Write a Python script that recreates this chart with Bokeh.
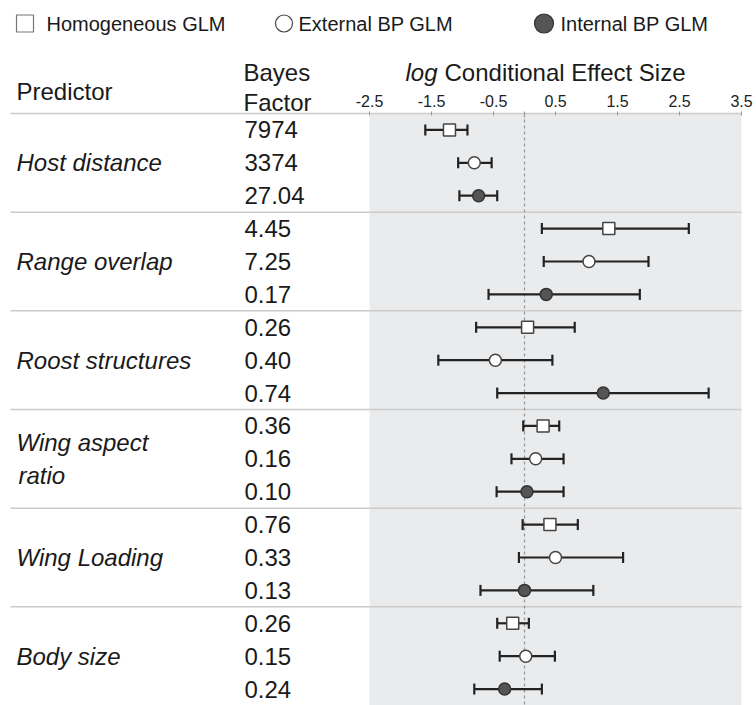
from bokeh.plotting import figure
from bokeh.models import (ColumnDataSource, Range1d, LinearAxis, FixedTicker, Whisker, TeeHead)
from bokeh.core.properties import value
from bokeh.embed import file_html
from bokeh.resources import INLINE

# ---------------- data ----------------
predictors = ["Host distance", "Range overlap", "Roost structures",
              "Wing aspect\nratio", "Wing Loading", "Body size"]
models = ["Homogeneous GLM", "External BP GLM", "Internal BP GLM"]
bayes_factors = ["7974", "3374", "27.04", "4.45", "7.25", "0.17",
                 "0.26", "0.40", "0.74", "0.36", "0.16", "0.10",
                 "0.76", "0.33", "0.13", "0.26", "0.15", "0.24"]

homog_mean = [-1.21, 1.36, 0.05, 0.30, 0.41, -0.19]
homog_low = [-1.60, 0.28, -0.78, -0.02, -0.03, -0.44]
homog_high = [-0.92, 2.65, 0.81, 0.56, 0.86, 0.07]

ext_mean = [-0.81, 1.04, -0.47, 0.18, 0.50, 0.02]
ext_low = [-1.07, 0.31, -1.39, -0.21, -0.09, -0.40]
ext_high = [-0.53, 2.00, 0.45, 0.63, 1.59, 0.49]

int_mean = [-0.74, 0.35, 1.27, 0.04, 0.00, -0.32]
int_low = [-1.05, -0.58, -0.44, -0.45, -0.71, -0.81]
int_high = [-0.44, 1.86, 2.97, 0.63, 1.11, 0.28]

tick_values = [-2.5, -1.5, -0.5, 0.5, 1.5, 2.5, 3.5]
tick_labels = ["-2.5", "-1.5", "-0.5", "0.5", "1.5", "2.5", "3.5"]
x_min, x_max = -2.5, 3.5

# ---------------- layout constants ----------------
FONT = "Liberation Sans"
TXT = "#1a1a1a"
PAGE_OFF = 0
W, H = 756, 705
UNIT = 62.0          # px per x unit
ZERO_PAGE = 524.0    # page x of value 0
TOP_LINE = 113.0     # page y of top rule
N_ROWS = 3 * len(predictors)
ROW = (705.0 - TOP_LINE) / N_ROWS

def X(page_x):
    return (page_x - ZERO_PAGE) / UNIT

def Y(page_y):
    return (page_y - TOP_LINE) / ROW

p = figure(width=W, height=H,
           x_range=Range1d(X(PAGE_OFF), X(PAGE_OFF + W)),
           y_range=Range1d(Y(PAGE_OFF + H), Y(PAGE_OFF)),
           output_backend="svg", toolbar_location=None, min_border=0,
           x_axis_location=None, y_axis_location=None)
p.grid.visible = False
p.outline_line_color = None

# ---------------- legend ----------------
leg_y = Y(23)
p.scatter([X(24.5)], [leg_y], marker="square", size=17, fill_color="white",
          line_color="#777777", line_width=1.2)
p.scatter([X(283.5)], [leg_y], marker="circle", size=17, fill_color="white",
          line_color="#444444", line_width=1.2)
p.scatter([X(543.5)], [leg_y], marker="circle", size=19, fill_color="#555555",
          line_color="#333333", line_width=1.2)
p.text(x=[X(46), X(298), X(560)], y=[leg_y] * 3, text=models, text_font=value(FONT),
       text_font_size="20px", text_baseline="middle", text_align="left", text_color=TXT)

# ---------------- headers ----------------
p.text(x=[X(16), X(243), X(243), X(444)], y=[Y(91), Y(72), Y(102), Y(72)],
       text=["Predictor", "Bayes", "Factor", "Conditional Effect Size"],
       text_font=value(FONT), text_font_size="24px", text_baseline="alphabetic",
       text_align="left", text_color=TXT)
p.text(x=[X(405)], y=[Y(72)], text=["log"], text_font=value(FONT), text_font_size="24px",
       text_font_style="italic", text_baseline="alphabetic", text_align="left", text_color=TXT)

# ---------------- panel ----------------
p.quad(left=[x_min], right=[x_max], bottom=[N_ROWS], top=[0], fill_color="#eaebed",
       line_color=None, level="image")
seps = [3 * k for k in range(len(predictors))]
p.segment(x0=[X(10)] * len(seps), x1=[x_max] * len(seps), y0=seps, y1=seps,
          line_color="#cccccc", line_width=1.5, level="image")
p.segment(x0=[0], x1=[0], y0=[0], y1=[N_ROWS], line_color="#999999", line_width=1.3,
          line_dash="3 3", level="underlay")

# axis drawn on the top rule
axis = LinearAxis(ticker=FixedTicker(ticks=tick_values, minor_ticks=[0]), fixed_location=0,
                  major_label_overrides=dict(zip(tick_values, tick_labels)))
axis.axis_line_color = None
axis.major_tick_line_color = "#999999"
axis.major_tick_in = 2
axis.major_tick_out = 2
axis.minor_tick_line_color = "#999999"
axis.minor_tick_in = 4
axis.minor_tick_out = 2
axis.major_label_standoff = 5
axis.major_label_text_font = FONT
axis.major_label_text_font_size = "16px"
axis.major_label_text_color = "#222222"
p.add_layout(axis, "above")

# ---------------- data marks ----------------
styles = [
    dict(marker="square", fill_color="white", line_color="#444444"),
    dict(marker="circle", fill_color="white", line_color="#444444"),
    dict(marker="circle", fill_color="#555555", line_color="#333333"),
]
series = [(homog_mean, homog_low, homog_high),
          (ext_mean, ext_low, ext_high),
          (int_mean, int_low, int_high)]
for j, (mean, low, high) in enumerate(series):
    ys = [3 * i + j + 0.5 for i in range(len(predictors))]
    src = ColumnDataSource(dict(y=ys, mean=mean, low=low, high=high))
    wk = Whisker(source=src, base="y", lower="low", upper="high", dimension="width",
                 line_color="#222222", line_width=2.2, level="underlay",
                 lower_head=TeeHead(size=11, line_color="#222222", line_width=2.2),
                 upper_head=TeeHead(size=11, line_color="#222222", line_width=2.2))
    p.add_layout(wk)
    p.scatter(x="mean", y="y", source=src, size=12, line_width=1.5, **styles[j])

# ---------------- table text ----------------
bf_src = ColumnDataSource(dict(x=[X(244)] * N_ROWS, y=[r + 0.5 for r in range(N_ROWS)],
                               t=bayes_factors))
p.text(x="x", y="y", text="t", source=bf_src, text_font=value(FONT), text_font_size="24px",
       text_baseline="middle", text_align="left", text_color=TXT)

nx, ny, nt = [], [], []
for i, name in enumerate(predictors):
    lines = name.split("\n")
    for k, ln in enumerate(lines):
        nx.append(X(16 + 2 * k))
        ny.append(3 * i + 1.5 + (k - (len(lines) - 1) / 2))
        nt.append(ln)
p.text(x=nx, y=ny, text=nt, text_font=value(FONT), text_font_size="24px",
       text_font_style="italic", text_baseline="middle", text_align="left", text_color=TXT)

open("out.html", "w").write(file_html(p, INLINE))
